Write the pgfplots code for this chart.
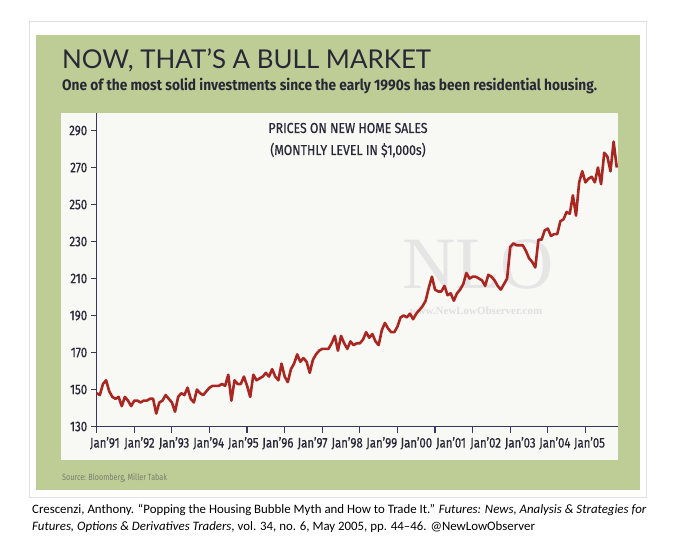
\documentclass[border=0pt]{standalone}
\usepackage{pgfplots}
\pgfplotsset{compat=1.18}
\usepackage{fontspec}
\setmainfont{Carlito}
\newfontfamily\condfont[FakeStretch=0.8]{Fira Sans}
\newfontfamily\tickfont[FakeStretch=0.82, FakeBold=0.6]{Fira Sans}
\newfontfamily\annfont[FakeStretch=0.85, FakeBold=0.5]{Fira Sans}
\newfontfamily\subfont[FakeStretch=0.9]{Fira Sans}
\newfontfamily\titlefont{Lato}
\newfontfamily\wmfont{Liberation Serif}
\definecolor{frame}{RGB}{190,205,150}
\definecolor{panel}{RGB}{248,248,245}
\definecolor{navy}{RGB}{55,55,95}
\definecolor{linered}{RGB}{170,38,32}
\definecolor{textdark}{RGB}{40,40,55}
\definecolor{srcgray}{RGB}{120,125,110}
\begin{document}
\begin{tikzpicture}[x=1bp,y=1bp]
\useasboundingbox (0,0) rectangle (680,-550);
\fill[white] (0,0) rectangle (680,-550);
\draw[black!12, line width=0.8bp] (29,-21) rectangle (646,-497);
\fill[frame] (36,-35) rectangle (640,-490);
\fill[panel] (61,-113) rectangle (618.3,-460);
\node[anchor=base west, inner sep=0, text=textdark] at (62,-69) {\titlefont\fontsize{26}{28}\selectfont NOW, THAT’S A BULL MARKET};
\node[anchor=base west, inner sep=0, text=textdark] at (62,-91) {\subfont\bfseries\fontsize{15.3}{17}\selectfont One of the most solid investments since the early 1990s has been residential housing.};
\node[anchor=base, inner sep=0, text=textdark] at (348,-133) {\annfont\fontsize{14.5}{16}\selectfont PRICES ON NEW HOME SALES};
\node[anchor=base, inner sep=0, text=textdark] at (348,-155) {\annfont\fontsize{14.5}{16}\selectfont (MONTHLY LEVEL IN \$1,000s)};
\node[anchor=base, inner sep=0, text=black!10] at (478,-288) {\wmfont\fontsize{74}{78}\selectfont NLO};
\node[anchor=base, inner sep=0, text=black!12] at (476,-314) {\wmfont\bfseries\fontsize{11}{12}\selectfont www.NewLowObserver.com};
\node[anchor=base west, inner sep=0, text=srcgray] at (62,-480) {\condfont\fontsize{9}{10}\selectfont Source: Bloomberg, Miller Tabak};
\node[anchor=base west, inner sep=0, text=black] at (32,-513) {\fontsize{12.9}{14}\selectfont Crescenzi, Anthony. “Popping the Housing Bubble Myth and How to Trade It.” \textit{Futures: News, Analysis \& Strategies for}};
\node[anchor=base west, inner sep=0, text=black] at (32,-530) {\fontsize{12.9}{14}\selectfont \textit{Futures, Options \& Derivatives Traders}, vol. 34, no. 6, May 2005, pp. 44–46. @NewLowObserver};
\begin{axis}[
  at={(96.7bp,-426.5bp)}, anchor=south west, scale only axis,
  width=521.6bp, height=313.5bp,
  xmin=0, xmax=166.5, ymin=130, ymax=299.5,
  axis x line*=bottom, axis y line*=left,
  axis line style={navy, line width=1.4bp},
  xtick={0,12,...,156}, xticklabels={},
  ytick={130,150,...,290},
  yticklabels={130,150,170,190,210,230,250,270,290},
  tick align=outside, major tick length=6bp,
  every tick/.style={navy, line width=1.2bp},
  yticklabel style={font=\tickfont\fontsize{14}{14}\selectfont, text=textdark},
  extra x ticks={2.6,13.65,24.7,35.75,46.8,57.85,68.9,79.95,91.0,102.05,113.1,124.15,135.2,146.25,157.3},
  extra x tick labels={Jan’91,Jan’92,Jan’93,Jan’94,Jan’95,Jan’96,Jan’97,Jan’98,Jan’99,Jan’00,Jan’01,Jan’02,Jan’03,Jan’04,Jan’05},
  extra x tick style={major tick length=0pt, xticklabel style={font=\tickfont\fontsize{14}{14}\selectfont, text=textdark, yshift=-7bp}},
  clip=false,
]
\addplot[linered, line width=2.6bp, line join=round] coordinates {
(0,148)(1,147)(2,153)(3,155)(4,149)(5,146)(6,145)(7,146)(8,141)(9,146)(10,144)(11,141)
(12,144)(13,144)(14,143)(15,144)(16,144)(17,145)(18,145)(19,137)(20,143)(21,144)(22,147)(23,145)
(24,143)(25,138)(26,146)(27,148)(28,147)(29,151)(30,145)(31,143)(32,150)(33,148)(34,147)(35,149)
(36,151)(37,152)(38,152)(39,152)(40,153)(41,152)(42,158)(43,144)(44,155)(45,153)(46,153)(47,157)
(48,152)(49,146)(50,158)(51,155)(52,156)(53,157)(54,159)(55,157)(56,161)(57,157)(58,155)(59,164)
(60,157)(61,154)(62,161)(63,164)(64,169)(65,165)(66,167)(67,165)(68,159)(69,166)(70,169)(71,171)
(72,172)(73,172)(74,172)(75,175)(76,179)(77,171)(78,179)(79,175)(80,172)(81,176)(82,174)(83,175)
(84,175)(85,177)(86,181)(87,178)(88,180)(89,176)(90,174)(91,182)(92,186)(93,183)(94,181)(95,181)
(96,184)(97,189)(98,190)(99,189)(100,191)(101,188)(102,191)(103,193)(104,195)(105,198)(106,205)(107,211)
(108,204)(109,203)(110,203)(111,206)(112,201)(113,202)(114,198)(115,202)(116,204)(117,207)(118,213)(119,210)
(120,211)(121,211)(122,210)(123,209)(124,206)(125,212)(126,211)(127,209)(128,206)(129,204)(130,207)(131,210)
(132,227)(133,229)(134,228)(135,228)(136,228)(137,225)(138,221)(139,219)(140,216)(141,231)(142,231)(143,236)
(144,237)(145,233)(146,234)(147,234)(148,241)(149,242)(150,246)(151,245)(152,255)(153,244)(154,262)(155,268)
(156,262)(157,264)(158,265)(159,262)(160,270)(161,261)(162,278)(163,276)(164,268)(165,284)(166,270)
};
\end{axis}
\end{tikzpicture}
\end{document}
